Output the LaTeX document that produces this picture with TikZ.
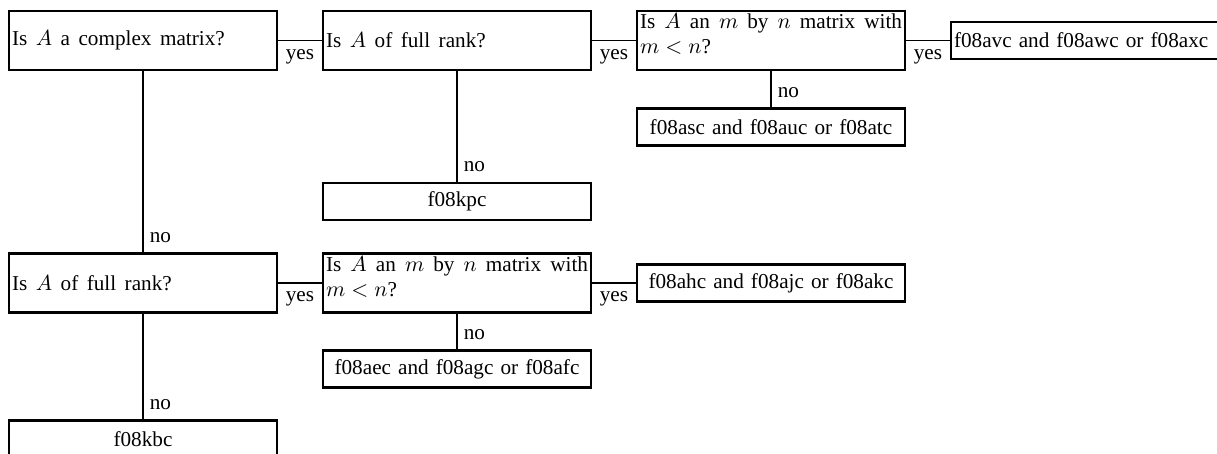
\documentclass[tikz,border=0pt]{standalone}
\usepackage{fontspec}
\setmainfont{Liberation Serif}[WordSpace=1.6]
\begin{document}
\begin{tikzpicture}[x=0.5pt,y=-0.5pt,
  box/.style={draw, line width=1.1pt, minimum width=134pt, inner xsep=1.5pt, inner ysep=0pt,
    text width=131pt, font=\fontsize{10.6}{12.5}\selectfont},
  qbox/.style={box, minimum height=29.5pt, align=justify},
  qqbox/.style={qbox, text depth=19pt},
  rbox/.style={box, minimum height=18.5pt, align=center},
  conn/.style={line width=0.8pt},
  lbl/.style={inner sep=0pt, font=\fontsize{10.6}{12.5}\selectfont},
  yeslbl/.style={lbl, anchor=base, yshift=-9.5pt},
  nolbl/.style={lbl, anchor=base west, xshift=3pt, yshift=5pt}]
\useasboundingbox (0,0) rectangle (1217,454);
\node[qbox] (b1) at (143,40.5) {Is $A$ a complex matrix?};
\node[qbox] (b2) at (457,40.5) {Is $A$ of full rank?};
\node[qqbox] (b3) at (771,40.5) {Is $A$ an $m$ by $n$ matrix with $m<n$?};
\node[rbox, align=left] (b4) at (1085,40.5) {f08avc and f08awc or f08axc};
\node[rbox] (r1) at (771,127) {f08asc and f08auc or f08atc};
\node[rbox] (r2) at (457,201.5) {f08kpc};
\node[qbox] (b5) at (143,283) {Is $A$ of full rank?};
\node[qqbox] (b6) at (457,283) {Is $A$ an $m$ by $n$ matrix with $m<n$?};
\node[rbox] (r3) at (771,283) {f08ahc and f08ajc or f08akc};
\node[rbox] (r4) at (457,369) {f08aec and f08agc or f08afc};
\node[rbox] (r5) at (143,439) {f08kbc};
\draw[conn] (b1.east) -- node[yeslbl] (y1) {yes} (b2.west);
\draw[conn] (b2.east) -- node[yeslbl] (y2) {yes} (b3.west);
\draw[conn] (b3.east) -- node[yeslbl] (y3) {yes} (b4.west);
\draw[conn] (b5.east) -- node[yeslbl] (y4) {yes} (b6.west);
\draw[conn] (b6.east) -- node[yeslbl] (y5) {yes} (r3.west);
\draw[conn] (b1.south) -- (b5.north) node[nolbl] (n1) {no};
\draw[conn] (b2.south) -- (r2.north) node[nolbl] (n2) {no};
\draw[conn] (b3.south) -- (r1.north) node[nolbl] (n3) {no};
\draw[conn] (b5.south) -- (r5.north) node[nolbl] (n4) {no};
\draw[conn] (b6.south) -- (r4.north) node[nolbl] (n5) {no};
\end{tikzpicture}
\end{document}
